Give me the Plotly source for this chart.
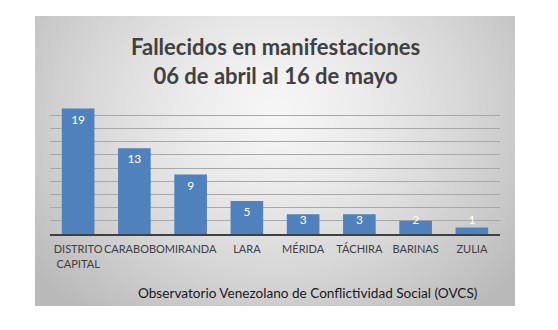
import base64, struct, zlib
import numpy as np
import plotly.graph_objects as go

categories = ["DISTRITO<br>CAPITAL", "CARABOBO", "MIRANDA", "LARA", "MÉRIDA", "TÁCHIRA", "BARINAS", "ZULIA"]
values = [19, 13, 9, 5, 3, 3, 2, 1]
title_lines = ["Fallecidos en manifestaciones", "06 de abril al 16 de mayo"]
source_text = "Observatorio Venezolano de Conflictividad Social (OVCS)"

W, H = 558, 330
L, R, T, B = 50, 58, 102, 96
PW, PH = W - L - R, H - T - B

def py(p):
    return (T + PH - p) / PH

def px(p):
    return (p - L) / PW

# background panel gradient (decorative)
pw, ph = 480, 290
yy, xx = np.mgrid[0:ph, 0:pw].astype(float)
dx = (xx - 240) / 240
dy = (yy - 95) / 200
r = np.sqrt(dx ** 2 + dy ** 2) / 1.25
val = np.clip(246 - 58 * np.power(np.clip(r, 0, 1.2), 1.4), 185, 250).astype(np.uint8)
raw = b"".join(b"\x00" + bytes(np.repeat(val[i][:, None], 3, axis=1).flatten()) for i in range(ph))
def chunk(t, d):
    c = t + d
    return struct.pack(">I", len(d)) + c + struct.pack(">I", zlib.crc32(c) & 0xffffffff)
png = b"\x89PNG\r\n\x1a\n" + chunk(b"IHDR", struct.pack(">IIBBBBB", pw, ph, 8, 2, 0, 0, 0)) + chunk(b"IDAT", zlib.compress(raw, 9)) + chunk(b"IEND", b"")
src = "data:image/png;base64," + base64.b64encode(png).decode()

bar_color = "#4F81BD"
label_y = [max(v - 1.82, 1.98) for v in values]

fig = go.Figure()
fig.add_trace(go.Bar(x=categories, y=values, marker=dict(color=bar_color, line=dict(width=0)),
                     hoverinfo="skip"))
fig.add_trace(go.Scatter(x=categories, y=label_y, mode="text", text=[str(v) for v in values],
                         textfont=dict(family="Lato", size=12, color="white"), hoverinfo="skip"))

fig.update_layout(
    width=W, height=H, margin=dict(l=L, r=R, t=T, b=B),
    paper_bgcolor="white", plot_bgcolor="rgba(0,0,0,0)",
    showlegend=False, bargap=0.42,
    font=dict(family="Lato", color="#404040"),
    xaxis=dict(showgrid=False, showline=True, linecolor="#404040", linewidth=2, tickangle=0,
               ticklabelstandoff=4,
               tickfont=dict(family="Lato", size=11, color="#404040"), ticks="", fixedrange=True),
    yaxis=dict(range=[0, 20], dtick=2, showgrid=True, gridcolor="#a8a8a8", gridwidth=1,
               showticklabels=False, zeroline=False, fixedrange=True),
    images=[dict(source=src, xref="paper", yref="paper",
                 x=px(35), y=py(16), sizex=480 / PW, sizey=290 / PH,
                 xanchor="left", yanchor="top", sizing="stretch", layer="below")],
    annotations=[
        dict(text="<b>" + "<br>".join(title_lines) + "</b>", xref="paper", yref="paper",
             x=px(275), y=py(61), xanchor="center", yanchor="middle", align="center",
             showarrow=False, font=dict(family="Lato", size=22, color="#404040")),
        dict(text=source_text, xref="paper", yref="paper",
             x=px(480), y=py(293), xanchor="right", yanchor="middle",
             showarrow=False, font=dict(family="Lato", size=13.6, color="#1a1a1a")),
    ],
)

fig.write_html("out.html")
